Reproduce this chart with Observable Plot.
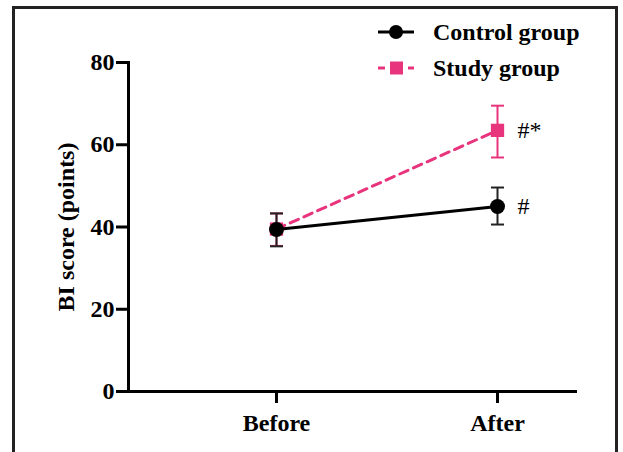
<!DOCTYPE html>
<html><head><meta charset="utf-8">
<script src="https://cdn.jsdelivr.net/npm/d3@7"></script>
<script src="https://cdn.jsdelivr.net/npm/@observablehq/plot@0.6"></script>
<style>
body{margin:0;background:#fff;}
#wrap{position:relative;width:623px;height:452px;overflow:hidden;font-family:"Liberation Serif","Times New Roman",serif;}
#border{position:absolute;left:12px;top:6px;width:600px;height:470px;border:3px solid #222;}
#chart{position:absolute;left:0;top:0;}
#legend{position:absolute;left:377px;top:14px;}
.item{display:flex;align-items:center;height:36px;}
.item span{font-weight:bold;font-size:24px;margin-left:18px;color:#000;}
svg{overflow:visible}
</style></head>
<body>
<div id="wrap"><div id="border"></div><div id="chart"></div><div id="legend"></div></div>
<script>
const times = ["Before", "After"];
const groups = ["Control group", "Study group"];
const colors = ["#000000", "#e8347c"];
const controlMean = [39.4, 45.0];
const controlLow = [35.3, 40.6];
const controlHigh = [43.3, 49.6];
const studyMean = [39.5, 63.5];
const studyLow = [35.4, 56.9];
const studyHigh = [43.3, 69.5];
const marksText = ["#", "#*"]; // annotations at "After": control, study
const yTicks = [0, 20, 40, 60, 80];

const rows = [];
times.forEach((t, i) => {
  rows.push({time: t, group: groups[1], mean: studyMean[i], lo: studyLow[i], hi: studyHigh[i]});
});
times.forEach((t, i) => {
  rows.push({time: t, group: groups[0], mean: controlMean[i], lo: controlLow[i], hi: controlHigh[i]});
});
const study = rows.filter(d => d.group === groups[1]);
const control = rows.filter(d => d.group === groups[0]);
const notes = [
  {time: "After", mean: controlMean[1], text: marksText[0]},
  {time: "After", mean: studyMean[1], text: marksText[1]}
];

// horizontal cap symbol for error bars
const cap = {draw(ctx, size) { const w = Math.sqrt(size / Math.PI); ctx.moveTo(-w, 0); ctx.lineTo(w, 0); }};

const chart = Plot.plot({
  width: 623, height: 452,
  marginLeft: 128, marginRight: 46, marginTop: 62, marginBottom: 61,
  style: {fontFamily: "Liberation Serif, serif", fontSize: "24px", fontWeight: "bold", color: "#000", background: "transparent"},
  x: {type: "point", domain: times, range: [276, 497], padding: 0},
  y: {domain: [0, 80]},
  marks: [
    Plot.frame({anchor: "left", stroke: "#000", strokeWidth: 3}),
    Plot.ruleY([0], {stroke: "#000", strokeWidth: 3}),
    Plot.axisY({ticks: yTicks, tickSize: 12, tickPadding: 2, strokeWidth: 3, fontSize: 24, fontWeight: "bold", label: null}),
    Plot.axisY({ticks: [], tickSize: 0, label: "BI score (points)", labelAnchor: "center", labelOffset: 72, labelArrow: "none", fontSize: 24, fontWeight: "bold"}),
    Plot.axisX({tickSize: 12, tickPadding: 10, strokeWidth: 3, fontSize: 24, fontWeight: "bold", label: null}),
    // study group
    Plot.line(study, {x: "time", y: "mean", stroke: colors[1], strokeWidth: 3, strokeDasharray: "9,6"}),
    Plot.ruleX(study, {x: "time", y1: "lo", y2: "hi", stroke: colors[1], strokeWidth: 2}),
    Plot.dot(study, {x: "time", y: "lo", symbol: cap, r: 6.5, stroke: colors[1], strokeWidth: 2}),
    Plot.dot(study, {x: "time", y: "hi", symbol: cap, r: 6.5, stroke: colors[1], strokeWidth: 2}),
    Plot.dot(study, {x: "time", y: "mean", symbol: "square", r: 7.5, fill: colors[1]}),
    // control group
    Plot.line(control, {x: "time", y: "mean", stroke: colors[0], strokeWidth: 3}),
    Plot.ruleX(control, {x: "time", y1: "lo", y2: "hi", stroke: "#222", strokeWidth: 2}),
    Plot.dot(control, {x: "time", y: "lo", symbol: cap, r: 6.5, stroke: "#222", strokeWidth: 2}),
    Plot.dot(control, {x: "time", y: "hi", symbol: cap, r: 6.5, stroke: "#222", strokeWidth: 2}),
    Plot.dot(control, {x: "time", y: "mean", r: 7.5, fill: colors[0]}),
    Plot.text(notes, {x: "time", y: "mean", text: "text", dx: 20, textAnchor: "start", fontSize: 24, fontWeight: "normal", fill: "#000"})
  ]
});
document.getElementById("chart").appendChild(chart);

// HTML legend
const legend = document.getElementById("legend");
groups.forEach((g, i) => {
  const item = document.createElement("div");
  item.className = "item";
  const sym = i === 0
    ? `<svg width="38" height="20"><line x1="1" y1="10" x2="37" y2="10" stroke="${colors[0]}" stroke-width="3"/><circle cx="19" cy="10" r="7" fill="${colors[0]}"/></svg>`
    : `<svg width="38" height="20"><line x1="1" y1="10" x2="37" y2="10" stroke="${colors[1]}" stroke-width="3" stroke-dasharray="7,8"/><rect x="13" y="3.5" width="13" height="13" fill="${colors[1]}"/></svg>`;
  item.innerHTML = sym + `<span>${g}</span>`;
  legend.appendChild(item);
});
</script>
</body></html>
